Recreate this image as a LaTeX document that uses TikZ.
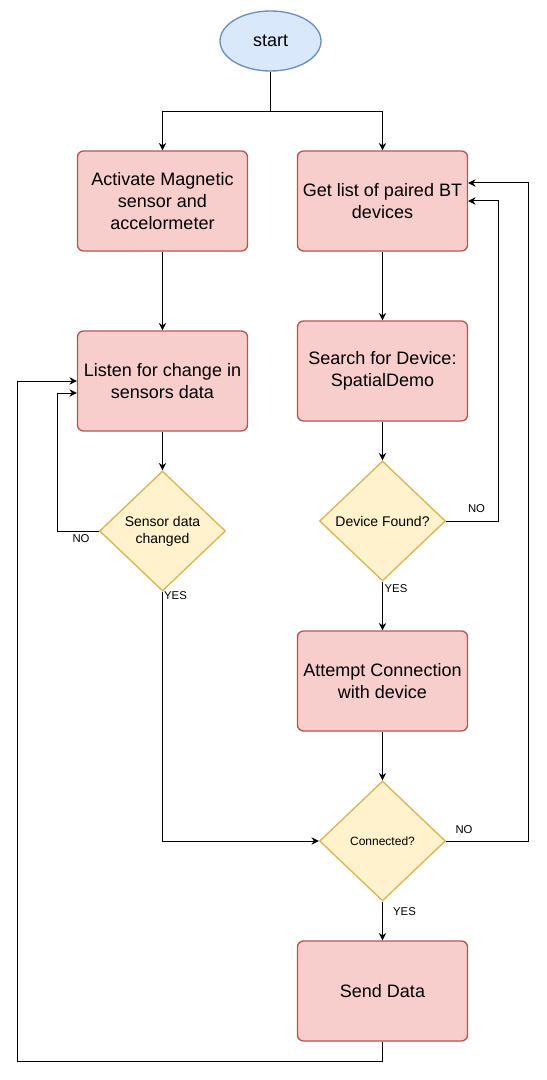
\documentclass[tikz,border=0pt]{standalone}
\usepackage{fontspec}
\setmainfont{Liberation Sans}
\usepackage{tikz}
\usetikzlibrary{shapes.geometric, arrows.meta, positioning}
\definecolor{procfill}{HTML}{F8CECC}
\definecolor{procline}{HTML}{B85450}
\definecolor{decfill}{HTML}{FFF2CC}
\definecolor{decline}{HTML}{D6B656}
\definecolor{termfill}{HTML}{DAE8FC}
\definecolor{termline}{HTML}{6C8EBF}
\tikzset{
procbox/.style={draw=procline, fill=procfill, line width=1pt, rounded corners=4.5pt, minimum width=127.5pt, minimum height=75pt, inner sep=0pt, align=center, font=\fontsize{13.5pt}{16.2pt}\selectfont},
decbox/.style={diamond, aspect=1.05, draw=decline, fill=decfill, line width=1pt, minimum width=94.5pt, minimum height=90pt, inner sep=0pt, align=center, font=\fontsize{10.5pt}{12.6pt}\selectfont},
termbox/.style={ellipse, draw=termline, fill=termfill, line width=1pt, minimum width=75.75pt, minimum height=45pt, inner sep=0pt, font=\fontsize{13.5pt}{16.2pt}\selectfont},
lbl/.style={draw=none, inner sep=0pt, font=\fontsize{8.5pt}{10pt}\selectfont},
flow/.style={line width=0.75pt, -{Stealth[length=5.5pt, width=5.5pt, inset=1.8pt]}},
}
\begin{document}
\begin{tikzpicture}[x=0.75pt, y=-0.75pt]
\useasboundingbox (0,0) rectangle (546,1080);
\node [termbox] (start) at (270.5,41) {start};
\node [procbox] (act) at (162.5,201) {Activate Magnetic\\sensor and\\accelormeter};
\node [procbox] (listbt) at (382.5,201) {Get list of paired BT\\devices};
\node [procbox] (listen) at (162.5,381) {Listen for change in\\sensors data};
\node [procbox] (search) at (382.5,371) {Search for Device:\\SpatialDemo};
\node [decbox] (sensq) at (162.5,531) {Sensor data\\changed};
\node [decbox] (found) at (382.5,521) {Device Found?};
\node [procbox] (attempt) at (382.5,681) {Attempt Connection\\with device};
\node [decbox, font=\fontsize{9pt}{10.8pt}\selectfont] (conn) at (382.5,841) {Connected?};
\node [procbox] (send) at (382.5,991) {Send Data};
\draw [flow] (start.south) -- ++(0,40) -| (act.north);
\draw [flow] (start.south) -- ++(0,40) -| (listbt.north);
\draw [flow] (act) -- (listen);
\draw [flow] (listen) -- (sensq);
\draw [flow] (sensq.west) -- ++(-41,0) |- ([yshift=-9pt]listen.west);
\node [lbl] (nosens) at (81,539) {NO};
\draw [flow] (sensq.south) |- (conn.west);
\node [lbl] (yessens) at (175.5,596) {YES};
\draw [flow] (listbt) -- (search);
\draw [flow] (search) -- (found);
\draw [flow] (found.east) -- ++(52,0) |- (listbt.east);
\node [lbl] (nofound) at (476.5,509) {NO};
\draw [flow] (found) -- (attempt);
\node [lbl] (yesfound) at (396,589) {YES};
\draw [flow] (attempt) -- (conn);
\draw [flow] (conn.east) -- ++(82,0) |- ([yshift=13.5pt]listbt.east);
\node [lbl] (noconn) at (464,830) {NO};
\draw [flow] (conn) -- (send);
\node [lbl] (yesconn) at (404.5,912) {YES};
\draw [flow] (send.south) -- ++(0,20) -- ++(-365.5,0) |- (listen.west);
\end{tikzpicture}
\end{document}
